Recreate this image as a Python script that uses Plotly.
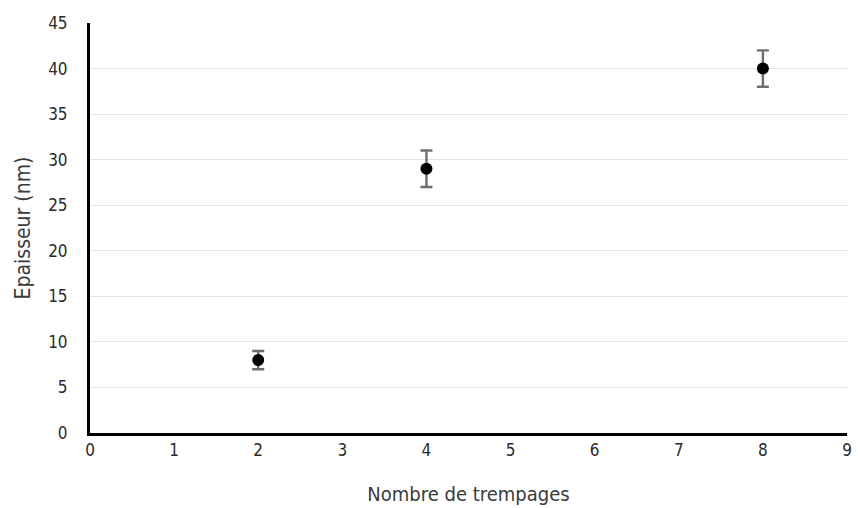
import plotly.graph_objects as go

# Thickness of the film versus number of dip-coating cycles
trempages = [2, 4, 8]
epaisseur = [8, 29, 40]
erreur = [1, 2, 2]

x_ticks = list(range(0, 10))
y_ticks = list(range(0, 50, 5))

fig = go.Figure(
    go.Scatter(
        x=trempages,
        y=epaisseur,
        mode="markers",
        marker=dict(color="black", size=12),
        error_y=dict(type="data", array=erreur, visible=True,
                     color="#6e6e6e", thickness=2.4, width=6),
        showlegend=False,
    )
)

font_family = "DejaVu Sans Condensed, DejaVu Sans, sans-serif"

fig.update_layout(
    width=858,
    height=508,
    margin=dict(l=90, r=6, t=23, b=75),
    paper_bgcolor="white",
    plot_bgcolor="white",
    font=dict(family=font_family, size=17, color="#2a2a2a"),
    xaxis=dict(
        range=[0, 9],
        tickvals=x_ticks,
        showgrid=False,
        zeroline=False,
        showline=True,
        linecolor="black",
        linewidth=3,
        ticks="",
        ticklabelstandoff=0,
        title=dict(text="Nombre de trempages", font=dict(size=20, color="#3a3a3a"), standoff=28),
    ),
    yaxis=dict(
        range=[0, 45],
        tickvals=y_ticks,
        showgrid=True,
        gridcolor="#e3e3e3",
        gridwidth=1,
        zeroline=False,
        showline=True,
        linecolor="black",
        linewidth=3,
        ticks="",
        ticklabelstandoff=16,
        title=dict(text="Epaisseur (nm)", font=dict(size=21, color="#3a3a3a"), standoff=12),
    ),
)

fig.write_html("out.html")
